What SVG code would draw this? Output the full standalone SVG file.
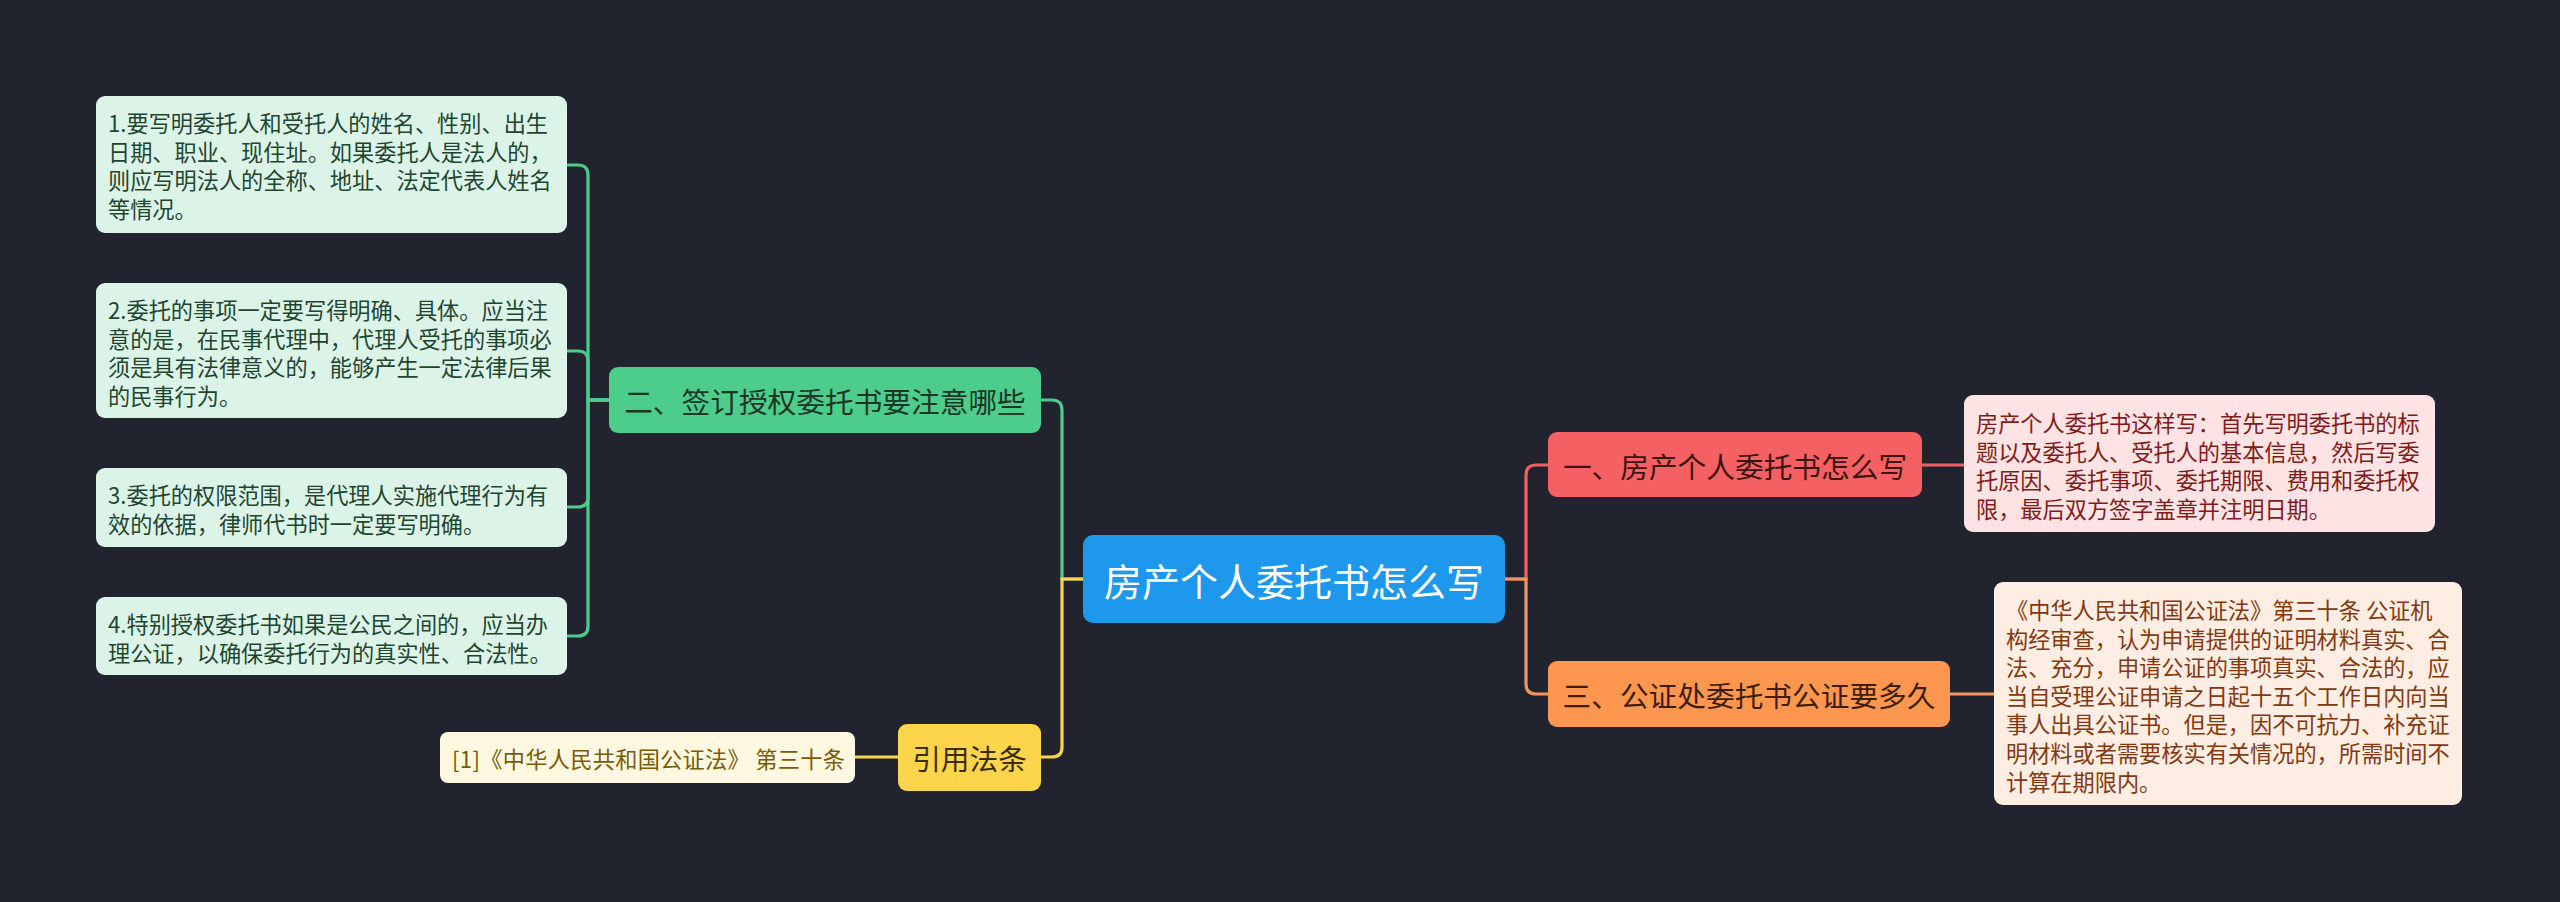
<svg xmlns="http://www.w3.org/2000/svg" width="2560" height="902" viewBox="0 0 2560 902">
<style>
text{font-family:"Noto Sans CJK SC","Noto Sans",sans-serif;dominant-baseline:central}
.lf{font-size:22.2px}
.br{font-size:28.7px;text-anchor:middle}
.cn{fill:none;stroke-width:3.2;stroke-linecap:round}
.g{stroke:#4ecb8c}.y{stroke:#f9d44c}.r{stroke:#ef6066}.o{stroke:#f5955a}
</style>
<rect width="2560" height="902" fill="#21242f"/>
<g id="connectors">
<path class="cn g" d="M1083,579 H1062 V410 Q1062,400 1052,400 H1041"/>
<path class="cn y" d="M1083,579 H1062 V747 Q1062,757 1052,757 H1041"/>
<path class="cn y" d="M898,757 H855"/>
<path class="cn g" d="M609,400 H588 V175 Q588,165 578,165 H567"/>
<path class="cn g" d="M609,400 H588 V361 Q588,351 578,351 H567"/>
<path class="cn g" d="M609,400 H588 V497 Q588,507 578,507 H567"/>
<path class="cn g" d="M609,400 H588 V626 Q588,636 578,636 H567"/>
<path class="cn r" d="M1505,579 H1526 V475 Q1526,465 1536,465 H1548"/>
<path class="cn o" d="M1505,579 H1526 V684 Q1526,694 1536,694 H1548"/>
<path class="cn r" d="M1922,465 H1964"/>
<path class="cn o" d="M1950,694 H1994"/>
</g>
<g id="root">
<rect x="1083" y="535" width="422" height="88" rx="10" fill="#1e98ec"/>
<text x="1294" y="579" font-size="38" text-anchor="middle" fill="#ffffff">房产个人委托书怎么写</text>
</g>
<g id="branch2">
<rect x="609" y="367" width="432" height="66" rx="9" fill="#4ccd8b"/>
<text class="br" x="825" y="400" fill="#1d3527">二、签订授权委托书要注意哪些</text>
</g>
<g id="leaf2-1">
<rect x="96" y="96" width="471" height="137" rx="9" fill="#dcf4e8"/>
<text class="lf" x="108" fill="#1f4530"><tspan x="108" y="122">1.要写明委托人和受托人的姓名、性别、出生</tspan><tspan x="108" y="151">日期、职业、现住址。如果委托人是法人的，</tspan><tspan x="108" y="179">则应写明法人的全称、地址、法定代表人姓名</tspan><tspan x="108" y="208">等情况。</tspan></text>
</g>
<g id="leaf2-2">
<rect x="96" y="283" width="471" height="135" rx="9" fill="#dcf4e8"/>
<text class="lf" fill="#1f4530"><tspan x="108" y="309">2.委托的事项一定要写得明确、具体。应当注</tspan><tspan x="108" y="338">意的是，在民事代理中，代理人受托的事项必</tspan><tspan x="108" y="366">须是具有法律意义的，能够产生一定法律后果</tspan><tspan x="108" y="395">的民事行为。</tspan></text>
</g>
<g id="leaf2-3">
<rect x="96" y="468" width="471" height="79" rx="9" fill="#dcf4e8"/>
<text class="lf" fill="#1f4530"><tspan x="108" y="494">3.委托的权限范围，是代理人实施代理行为有</tspan><tspan x="108" y="523">效的依据，律师代书时一定要写明确。</tspan></text>
</g>
<g id="leaf2-4">
<rect x="96" y="597" width="471" height="78" rx="9" fill="#dcf4e8"/>
<text class="lf" fill="#1f4530"><tspan x="108" y="623">4.特别授权委托书如果是公民之间的，应当办</tspan><tspan x="108" y="652">理公证，以确保委托行为的真实性、合法性。</tspan></text>
</g>
<g id="cite">
<rect x="898" y="724" width="143" height="67" rx="9" fill="#fcd54c"/>
<text class="br" x="969.5" y="757" fill="#3a2d05">引用法条</text>
</g>
<g id="cite-leaf">
<rect x="440" y="732" width="415" height="51" rx="8" fill="#fef8e0"/>
<text class="lf" x="452" y="758" fill="#7a5a06" textLength="393">[1]《中华人民共和国公证法》 第三十条</text>
</g>
<g id="branch1">
<rect x="1548" y="432" width="374" height="65" rx="9" fill="#f56062"/>
<text class="br" x="1735" y="465" fill="#3d1414">一、房产个人委托书怎么写</text>
</g>
<g id="leaf1">
<rect x="1964" y="395" width="471" height="137" rx="9" fill="#fde3e3"/>
<text class="lf" fill="#821a1a"><tspan x="1976" y="422">房产个人委托书这样写：首先写明委托书的标</tspan><tspan x="1976" y="451">题以及委托人、受托人的基本信息，然后写委</tspan><tspan x="1976" y="479">托原因、委托事项、委托期限、费用和委托权</tspan><tspan x="1976" y="508">限，最后双方签字盖章并注明日期。</tspan></text>
</g>
<g id="branch3">
<rect x="1548" y="661" width="402" height="66" rx="9" fill="#fd9750"/>
<text class="br" x="1749" y="694" fill="#3d1e08">三、公证处委托书公证要多久</text>
</g>
<g id="leaf3">
<rect x="1994" y="582" width="468" height="223" rx="9" fill="#fdede2"/>
<text class="lf" fill="#84380f"><tspan x="2006" y="609">《中华人民共和国公证法》第三十条 公证机</tspan><tspan x="2006" y="638">构经审查，认为申请提供的证明材料真实、合</tspan><tspan x="2006" y="666">法、充分，申请公证的事项真实、合法的，应</tspan><tspan x="2006" y="695">当自受理公证申请之日起十五个工作日内向当</tspan><tspan x="2006" y="723">事人出具公证书。但是，因不可抗力、补充证</tspan><tspan x="2006" y="752">明材料或者需要核实有关情况的，所需时间不</tspan><tspan x="2006" y="781">计算在期限内。</tspan></text>
</g>
</svg>
